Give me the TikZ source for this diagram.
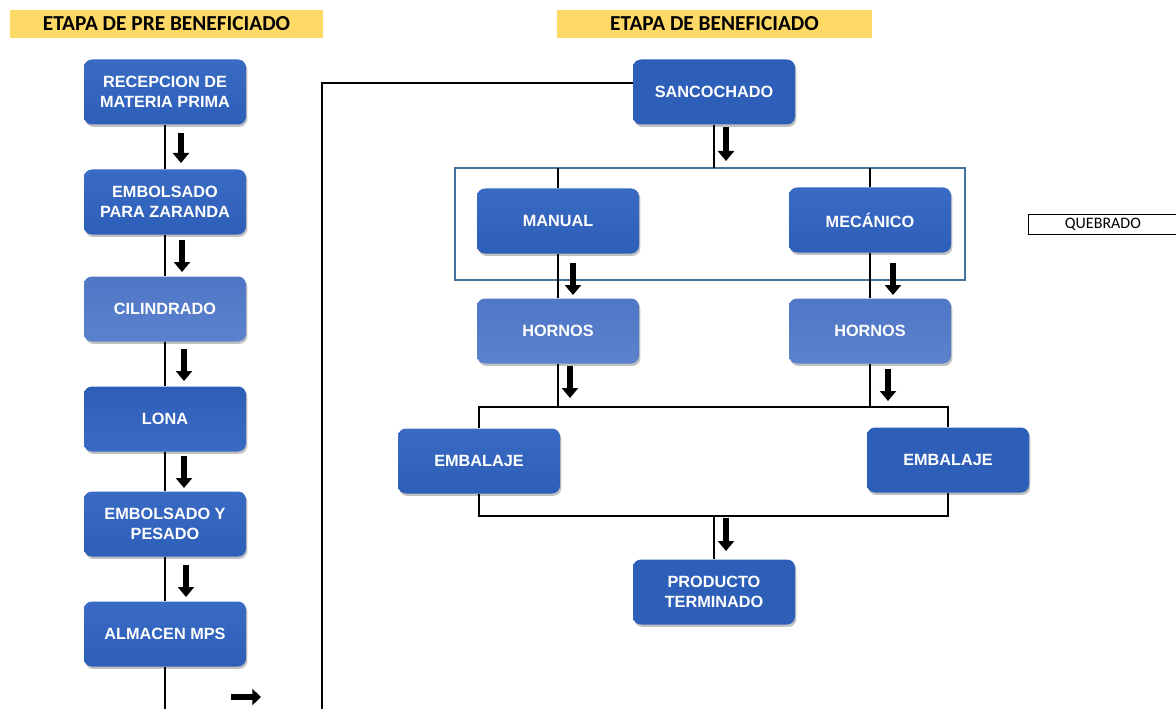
\documentclass[tikz,border=0pt]{standalone}
\usepackage{fontspec}
\setmainfont{Liberation Sans}
\newfontfamily\calib{Carlito}
\usetikzlibrary{arrows.meta,shadows,positioning}
\definecolor{boxblue}{HTML}{2E5FB8}
\definecolor{boxtop}{HTML}{3A6BC4}
\definecolor{lightblue}{HTML}{5A82CC}
\definecolor{lighttop}{HTML}{5076C6}
\definecolor{hdr}{HTML}{FFD966}
\definecolor{frameblue}{HTML}{41719C}
\tikzset{
  procbox/.style={rounded corners=6pt, minimum width=121.5pt, minimum height=48.75pt,
    top color=boxtop, bottom color=boxblue, text=white, align=center,
    font=\bfseries\fontsize{12.2}{15}\selectfont,
    drop shadow={shadow xshift=1pt, shadow yshift=-1.8pt, opacity=0.35, fill=black!70}},
  lightbox/.style={procbox, top color=lighttop, bottom color=lightblue},
  hdrbox/.style={fill=hdr, inner sep=0pt, font=\calib\bfseries\fontsize{16}{18}\selectfont},
  conn/.style={line width=1.5pt},
  blkarrow/.style={line width=5pt, -{Triangle[width=12pt,length=7.5pt]}},
}
\begin{document}
\begin{tikzpicture}[x=0.75pt,y=-0.75pt]
\useasboundingbox (0,0) rectangle (1176,709);
% headers
\node[hdrbox, minimum width=234.75pt, minimum height=21pt] (h1) at (166.5,24) {ETAPA DE PRE BENEFICIADO};
\node[hdrbox, minimum width=236.25pt, minimum height=21pt] (h2) at (714.5,24) {ETAPA DE BENEFICIADO};
% left column
\node[procbox] (rec) at (165,92) {RECEPCION DE\\MATERIA PRIMA};
\node[procbox] (emb) at (165,202) {EMBOLSADO\\PARA ZARANDA};
\node[lightbox] (cil) at (165,309) {CILINDRADO};
\node[procbox, top color=boxblue, bottom color=boxtop] (lona) at (165,419) {LONA};
\node[procbox] (emp) at (165,524) {EMBOLSADO Y\\PESADO};
\node[procbox] (alm) at (165,634) {ALMACEN MPS};
\coordinate (lend) at (165,709);
\draw[conn] (rec.south) -- (emb.north);
\draw[conn] (emb.south) -- (cil.north);
\draw[conn] (cil.south) -- (lona.north);
\draw[conn] (lona.south) -- (emp.north);
\draw[conn] (emp.south) -- (alm.north);
\draw[conn] (alm.south) -- (lend);
\draw[blkarrow] (181,133) -- (181,163);
\draw[blkarrow] (182,240) -- (182,272);
\draw[blkarrow] (184,349) -- (184,381);
\draw[blkarrow] (184,456) -- (184,488);
\draw[blkarrow] (186,565) -- (186,597);
\draw[line width=5pt, -{Triangle[width=12pt,length=6.5pt]}] (231,697) -- (261,697);
% right part
\node[procbox, top color=boxblue, bottom color=boxblue] (san) at (714,92) {SANCOCHADO};
\coordinate (rend) at (322,709);
\draw[conn] ([yshift=6.75pt]san.west) -| (rend);
\draw[frameblue, line width=0.9pt] (455,168) rectangle (965,280);
\coordinate (ftop) at (714,168);
\draw[conn] (san.south) -- (ftop);
\draw[blkarrow] (726,127) -- (726,161);
\node[procbox] (man) at (558,221) {MANUAL};
\node[procbox] (mec) at (870,220) {MEC\'ANICO};
\coordinate (fm) at (558,168);
\coordinate (fc) at (870,168);
\draw[conn] (fm) -- (man.north);
\draw[conn] (fc) -- (mec.north);
\node[lightbox] (h1o) at (558,331) {HORNOS};
\node[lightbox] (h2o) at (870,331) {HORNOS};
\draw[conn] (man.south) -- (h1o.north);
\draw[conn] (mec.south) -- (h2o.north);
\draw[blkarrow] (573,263) -- (573,295);
\draw[blkarrow] (893,263) -- (893,295);
\node[procbox] (e1) at (479,461) {EMBALAJE};
\node[procbox, top color=boxblue, bottom color=boxblue] (e2) at (948,460) {EMBALAJE};
\coordinate (j1) at (558,407);
\coordinate (j2) at (870,407);
\draw[conn] (h1o.south) -- (j1);
\draw[conn] (h2o.south) -- (j2);
\draw[conn] (e1.north) |- (j1) -- (j2) -| (e2.north);
\draw[blkarrow] (570,366) -- (570,398);
\draw[blkarrow] (888,369) -- (888,401);
\node[procbox, top color=boxblue, bottom color=boxblue] (pt) at (714,592) {PRODUCTO\\TERMINADO};
\coordinate (jb) at (714,516);
\draw[conn] (e1.south) |- (jb) -| (e2.south);
\draw[conn] (jb) -- (pt.north);
\draw[blkarrow] (726,518) -- (726,551);
% quebrado
\node[draw, line width=0.6pt, minimum width=112.5pt, minimum height=15pt, inner sep=0pt,
  font=\calib\fontsize{12}{14}\selectfont, anchor=west] (que) at (1027.5,224) {QUEBRADO};
\end{tikzpicture}
\end{document}
